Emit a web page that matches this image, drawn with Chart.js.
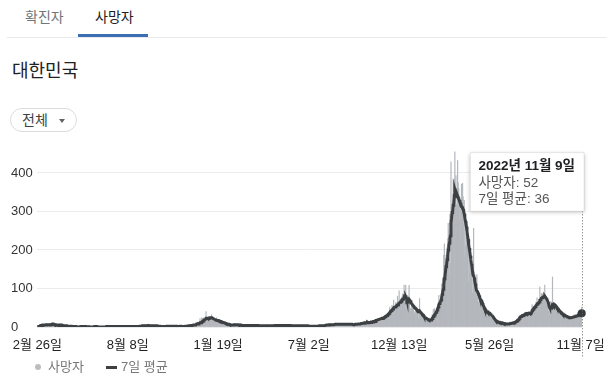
<!DOCTYPE html>
<html lang="ko">
<head>
<meta charset="utf-8">
<script src="https://cdn.jsdelivr.net/npm/chart.js@4.4.1/dist/chart.umd.min.js"></script>
<style>
  html, body { margin: 0; padding: 0; background: #fff; }
  body { width: 609px; height: 387px; position: relative; overflow: hidden;
         font-family: "Liberation Sans", "Noto Sans CJK KR", sans-serif; }
  .abs { position: absolute; white-space: nowrap; }
  .tab { top: 9px; font-size: 14px; line-height: 16px; }
  #tab1 { left: 25px; color: #70757a; }
  #tab2 { left: 95px; color: #202124; }
  #tabline { left: 78px; top: 34px; width: 70px; height: 3px; background: #3c6eb4; }
  #sep { left: 7px; top: 37px; width: 600px; height: 1px; background: #e8eaed; }
  #title { left: 12px; top: 60px; font-size: 18px; line-height: 22px; color: #202124; }
  #btn { left: 10px; top: 108px; width: 65px; height: 22px; border: 1px solid #dadce0; border-radius: 12px; }
  #btn span { position: absolute; left: 11px; top: 3px; font-size: 14px; line-height: 16px; color: #3c4043; }
  #btn i { position: absolute; left: 48px; top: 10px; width: 0; height: 0;
           border-left: 3px solid transparent; border-right: 3px solid transparent; border-top: 4px solid #5f6368; }
  #wrap { left: 0; top: 140px; width: 609px; height: 230px; }
  .leg { top: 359px; font-size: 13px; line-height: 16px; color: #777; }
  #dot { left: 35px; top: 364px; width: 6px; height: 6px; border-radius: 3px; background: #bdbdbd; }
  #dash { left: 106px; top: 366px; width: 11px; height: 3px; background: #3c4043; }
</style>
</head>
<body>
<div class="abs tab" id="tab1">확진자</div>
<div class="abs tab" id="tab2">사망자</div>
<div class="abs" id="sep"></div>
<div class="abs" id="tabline"></div>
<div class="abs" id="title">대한민국</div>
<div class="abs" id="btn"><span>전체</span><i></i></div>
<div class="abs" id="wrap"><canvas id="chart" width="609" height="230"></canvas></div>
<div class="abs" id="dot"></div>
<div class="abs leg" style="left:48px">사망자</div>
<div class="abs" id="dash"></div>
<div class="abs leg" style="left:121px">7일 평균</div>

<script>
// 첫 날짜 (2020년 2월 26일)
const startDate = [2020, 1, 26];

// x축 눈금 (첫 날짜로부터의 일수) 과 라벨
const tickDays = [0, 164, 328, 492, 656, 820, 985];
const tickLabels = ["2월 26일", "8월 8일", "1월 19일", "7월 2일", "12월 13일", "5월 26일", "11월 7일"];

// y축 눈금
const yTicks = [0, 100, 200, 300, 400];

// 일일 사망자
const deaths = [
  1,1,0,1, // 2020-02
  1,5,6,4,3,7,6,6,3,3, 6,6,6,8,3,6,3,7,3,8, 8,8,9,9,6,5,5,5,6,6,6,
  3,4,5,5,3,3,6,8,4,4, 4,3,3,3,3,3,3,3,2,2, 1,2,2,2,2,2,1,2,2,2,
  0,2,0,2,0,1,1,0,0,0, 0,0,1,1,1,0,1,1,1,1, 0,2,0,0,0,1,0,1,1,0,0,
  0,1,0,1,0,0,0,1,1,1, 0,1,1,0,0,0,1,0,0,0, 1,0,0,1,0,0,0,1,0,0,
  1,0,1,1,0,1,0,1,1,0, 1,0,1,0,1,0,0,1,1,0, 1,0,0,1,1,0,0,1,1,0,1,
  0,1,0,1,0,1,1,0,1,0, 0,1,0,1,1,0,0,1,0,1, 2,2,0,1,2,1,2,2,1,2,1,
  3,2,4,5,3,2,2,6,2,5, 2,3,3,5,5,2,2,2,3,5, 4,1,3,2,5,3,2,1,3,3,
  1,1,1,2,2,1,2,1,1,1, 1,1,2,1,2,1,3,1,3,3, 2,2,3,1,1,2,1,1,2,2,2,
  2,2,1,1,2,2,1,1,1,2, 2,2,1,1,2,1,1,2,2,3, 2,3,3,2,2,3,4,2,5,1,
  3,5,6,3,7,6,4,7,7,12, 7,13,3,9,13,12,22,11,12,24, 15,17,17,24,17,20,24,40,20,19,17,
  20,25,19,25,26,20,32,21,18,15, 15,15,14,19,10,24,10,16,19,10, 14,14,9,12,10,5,12,11,12,5,8, // 2021-01
  8,6,6,7,10,5,4,6,5,8, 6,5,2,3,4,6,9,6,5,5, 7,7,5,3,8,2,1,8,
  5,4,3,4,5,3,2,2,5,6, 3,4,4,4,3,2,4,6,5,3, 3,3,2,4,3,7,2,3,5,6,4,
  3,3,4,2,4,2,3,3,2,3, 4,2,3,4,4,3,2,6,3,2, 4,3,4,2,2,5,3,3,3,5,
  3,5,2,3,4,3,4,5,3,5, 5,3,4,2,3,5,4,3,2,5, 4,3,4,4,3,6,3,4,5,4,3,
  3,3,2,4,2,3,2,3,4,2, 3,2,3,2,3,2,4,3,2,3, 2,3,3,4,2,3,2,3,2,3,
  2,2,3,1,2,2,3,1,2,2, 3,1,2,3,2,2,3,2,3,2, 4,2,3,3,2,3,4,3,3,4,3,
  4,5,6,7,4,5,6,7,5,8, 6,6,5,8,7,6,5,8,7,10, 6,7,5,8,6,7,7,9,6,5,7,
  7,8,6,7,5,6,9,7,8,6, 7,6,5,7,8,9,6,5,7,6, 4,8,7,8,9,6,5,7,8,9,
  8,9,7,10,11,9,12,10,13,9, 12,11,14,10,12,13,11,9,14,12, 13,15,11,14,12,16,13,15,12,14,18,
  15,14,18,20,22,19,21,20,18,22, 25,24,21,23,22,21,29,30,28,32, 28,30,34,35,39,52,39,33,44,56,
  34,47,70,43,43,39,64,57,53,80, 40,52,94,60,73,70,69,78,86,58, 78,109,79,46,108,55,45,82,66,56,108,
  66,48,41,49,70,57,45,54,39,33, 41,37,46,38,36,33,22,38,74,31, 28,29,25,35,22,34,22,20,23,15,19, // 2022-01
  19,20,14,18,13,21,23,17,21,26, 33,28,45,18,48,27,30,40,36,51, 60,54,82,61,48,55,70,112,
  96,128,112,186,216,112,161,186,158,206, 229,269,251,136,293,164,429,301,319,327, 384,291,384,455,339,393,318,287,432,375,360,
  340,280,306,218,371,348,373,338,264,329, 184,211,244,264,273,213,205,118,218,174, 174,159,164,123,88,125,256,144,136,127,
  100,82,136,76,60,65,90,58,54,66, 72,50,49,47,39,38,35,52,40,49, 38,28,35,43,37,37,29,32,23,21,28,
  20,22,17,12,14,11,19,15,13,9, 11,10,8,16,12,8,11,10,7,9, 11,8,9,7,8,5,6,11,8,10,
  7,10,13,9,8,11,11,12,14,8, 14,12,15,20,18,17,21,26,25,31, 28,27,31,22,26,35,32,33,38,34,32,
  26,31,37,40,31,37,37,29,39,40, 58,48,53,38,40,44,59,64,50,76, 58,57,62,63,104,69,70,87,72,86,80,
  81,76,109,73,70,62,56,60,49,41, 30,38,55,66,58,56,130,45,47,50, 59,58,52,47,39,44,46,42,41,38,
  40,33,34,30,28,26,33,37,29,31, 24,23,30,25,21,20,28,27,22,24, 24,28,27,20,31,29,24,33,28,31,26,
  34,38,36,30,38,27,31,39,52 // 2022-11
];

// 7일 평균
const avg7 = [
  1,1,1,1,
  1,2,3,3,4,4,5,5,5,5, 5,5,5,6,6,6,6,6,5,6, 6,6,7,8,8,8,7,7,6,6,6,
  6,5,5,5,4,4,5,5,5,5, 5,4,4,4,3,3,3,3,3,3, 2,2,2,2,2,2,2,2,2,2,
  1,1,1,1,1,1,1,1,0,0, 0,0,0,0,1,1,1,1,1,1, 1,1,1,1,1,1,0,0,0,1,0,
  0,0,0,0,0,0,0,1,1,1, 1,1,1,1,0,0,0,0,0,0, 0,0,0,0,0,0,0,0,0,0,
  1,1,1,1,1,1,1,1,1,1, 1,1,1,1,1,0,0,0,1,1, 1,1,1,1,1,1,1,1,1,1,1,
  1,1,1,1,1,1,1,1,1,1, 1,1,1,1,1,1,1,1,1,1, 1,1,1,1,1,1,1,1,2,2,2,
  2,2,2,3,3,3,3,3,3,3, 3,3,3,4,4,3,3,3,3,3, 3,3,3,3,3,3,3,3,3,3,
  3,2,2,2,2,2,1,1,1,1, 1,1,1,1,1,1,2,2,2,2, 2,2,2,2,2,2,2,2,2,2,2,
  2,2,2,2,2,2,1,1,1,1, 1,2,2,1,1,1,1,1,1,2, 2,2,2,2,2,2,3,3,3,3,
  3,4,4,4,5,5,5,5,6,7, 7,8,8,8,9,9,11,11,11,13, 14,15,16,18,18,18,20,23,23,23,22,
  22,23,23,24,24,24,24,24,23,22, 21,20,20,19,18,18,17,17,17,16, 16,15,15,14,14,13,13,12,12,11,11,
  10,9,9,8,8,7,7,7,6,6, 6,5,5,5,5,5,5,6,6,6, 6,6,6,6,5,5,5,5,
  5,5,4,4,4,4,4,4,4,4, 4,4,4,4,4,4,4,4,4,4, 4,4,4,4,4,4,4,4,4,4,4,
  4,4,3,3,3,3,3,3,3,3, 3,3,3,3,3,3,3,3,3,3, 3,3,3,3,3,3,3,3,3,3,
  4,4,4,4,4,4,4,4,4,4, 4,4,4,4,4,4,4,4,4,4, 4,4,4,4,4,4,4,4,4,4,4,
  4,3,3,3,3,3,3,3,3,3, 3,3,3,3,3,3,3,3,3,3, 3,3,3,3,3,3,3,3,3,3,
  3,3,2,2,2,2,2,2,2,2, 2,2,2,2,2,2,2,2,2,2, 3,3,3,3,3,3,3,3,3,3,3,
  4,4,5,5,5,5,5,5,6,6, 6,6,6,6,6,6,6,6,7,7, 7,7,7,7,7,7,7,7,7,7,7,
  7,7,7,7,7,7,7,7,7,7, 7,7,7,7,7,7,7,7,7,7, 6,6,6,7,7,7,7,7,7,8,
  8,8,8,8,9,9,9,9,10,10, 10,11,11,11,11,11,12,11,12,12, 12,12,12,13,13,13,13,14,14,14,14,
  17,17,18,18,19,19,20,20,21,21, 22,22,23,23,24,25,26,27,28,29, 30,31,33,34,36,38,40,41,43,44,
  46,47,50,51,51,52,53,55,56,58, 58,59,62,62,64,66,67,70,72,72, 72,77,78,77,79,76,70,72,70,69,72,
  70,68,66,62,60,58,56,55,53,52, 50,48,47,45,44,43,40,40,42,40, 38,37,35,33,32,31,28,26,25,24,23,
  22,21,20,19,18,18,18,18,18,19, 22,24,27,28,31,33,35,38,40,44, 48,52,57,61,63,66,70,77,
  85,92,98,110,125,130,144,157,162,175, 185,200,210,218,230,237,270,282,297,300, 316,318,342,357,352,350,344,338,340,336,332,
  330,326,322,314,312,312,310,306,300,294, 285,275,268,260,248,238,228,214,205,196, 185,175,165,158,144,135,132,128,120,112,
  104,96,96,92,88,84,82,77,73,70, 69,67,62,58,55,51,47,46,44,43, 42,40,38,37,37,37,35,34,32,31,29,
  27,25,23,21,19,17,16,15,15,14, 13,12,12,12,11,11,11,11,10,10, 9,9,9,9,8,8,8,8,8,8,
  8,9,9,9,9,10,10,10,11,11, 12,13,14,15,16,18,19,21,23,25, 26,27,28,29,30,30,31,32,33,34,35,
  34,34,35,35,35,36,35,35,36,37, 42,44,46,48,50,52,53,55,57,59, 61,62,63,65,70,71,72,75,76,77,78,
  78,77,80,78,76,74,72,68,64,60, 53,50,49,50,51,52,58,57,55,57, 58,57,55,53,50,49,48,46,44,42,
  40,39,38,36,35,33,32,32,31,30, 29,28,28,27,26,25,25,25,24,24, 24,24,25,25,26,26,26,27,27,28,28,
  29,30,31,32,33,33,33,34,36
];

// 날짜 라벨
const dates = [];
for (let i = 0; i < deaths.length; i++) {
   const d = new Date(startDate[0], startDate[1], startDate[2] + i);
   dates.push(d.getFullYear() + "년 " + (d.getMonth() + 1) + "월 " + d.getDate() + "일");
}

const fontFamily = '"Liberation Sans", "Noto Sans CJK KR", sans-serif';
Chart.defaults.font.family = fontFamily;
Chart.defaults.font.size = 13;

const lastIdx = deaths.length - 1;

Chart.Tooltip.positioners.topRight = function () {
   const area = this.chart.chartArea;
   return { x: area.right + 2, y: 12.7, xAlign: "right", yAlign: "top" };
};

// 툴팁 그림자 + 점선
const extras = {
   id: "extras",
   afterDatasetsDraw(chart) {
      const tip = chart.tooltip;
      const meta = chart.getDatasetMeta(0);
      const bar = meta.data[lastIdx];
      if (!bar) return;
      const ctx = chart.ctx;
      ctx.save();
      ctx.strokeStyle = "#666";
      ctx.lineWidth = 1;
      ctx.setLineDash([1, 2]);
      const x = Math.round(bar.x) + 0.5;
      ctx.beginPath();
      ctx.moveTo(x, tip && tip.opacity ? tip.y + tip.height : chart.chartArea.top);
      ctx.lineTo(x, chart.chartArea.bottom + 31);
      ctx.stroke();
      ctx.restore();
   },
   beforeTooltipDraw(chart, args) {
      const tip = args.tooltip;
      if (!tip.opacity) return;
      const ctx = chart.ctx;
      ctx.save();
      ctx.shadowColor = "rgba(0,0,0,0.28)";
      ctx.shadowBlur = 4;
      ctx.shadowOffsetY = 1;
      ctx.fillStyle = "#fff";
      ctx.fillRect(tip.x, tip.y, tip.width, tip.height);
      ctx.restore();
   },
};

const chart = new Chart(document.getElementById("chart"), {
   type: "bar",
   data: {
      labels: dates,
      datasets: [
         {
            label: "사망자",
            data: deaths,
            backgroundColor: "#b4b8bd",
            hoverBackgroundColor: "#b4b8bd",
            borderWidth: 0,
            barPercentage: 1,
            categoryPercentage: 1,
            order: 1,
         },
         {
            type: "line",
            label: "7일 평균",
            data: avg7,
            borderColor: "#3c4043",
            backgroundColor: "#3c4043",
            borderWidth: 3,
            tension: 0,
            pointRadius: (c) => (c.dataIndex === lastIdx ? 4 : 0),
            pointHoverRadius: (c) => (c.dataIndex === lastIdx ? 4 : 0),
            pointBorderWidth: 0,
            pointHoverBorderWidth: 0,
            order: 0,
         },
      ],
   },
   options: {
      responsive: false,
      maintainAspectRatio: false,
      animation: false,
      events: [],
      layout: { padding: { left: 11, right: 27, top: 6, bottom: 0 } },
      scales: {
         x: {
            grid: { display: false },
            border: { display: false },
            ticks: {
               autoSkip: false,
               maxRotation: 0,
               minRotation: 0,
               padding: 3,
               color: "#222",
               font: { size: 13 },
               callback: (value) => tickLabels[tickDays.indexOf(value)],
            },
            afterBuildTicks: (axis) => {
               axis.ticks = tickDays.map((v) => ({ value: v }));
            },
            afterFit: (axis) => {
               axis.height = 43;
               axis.paddingLeft = 0;
               axis.paddingRight = 0;
            },
         },
         y: {
            min: 0,
            max: 470,
            grid: { color: "#ebebeb", drawTicks: false },
            border: { display: false },
            ticks: {
               stepSize: 100,
               includeBounds: false,
               crossAlign: "far",
               padding: 0,
               color: "#333",
               font: { size: 13 },
            },
            afterBuildTicks: (axis) => {
               axis.ticks = yTicks.map((v) => ({ value: v }));
            },
            afterFit: (axis) => {
               axis.width = 26;
               axis.paddingTop = 0;
               axis.paddingBottom = 0;
            },
         },
      },
      plugins: {
         legend: { display: false },
         tooltip: {
            position: "topRight",
            xAlign: "right",
            yAlign: "top",
            caretSize: 0,
            caretPadding: 0,
            cornerRadius: 0,
            displayColors: false,
            backgroundColor: "#fff",
            borderColor: "rgba(0,0,0,0.08)",
            borderWidth: 1,
            padding: { left: 8, right: 9, top: 5, bottom: 4 },
            titleColor: "#202124",
            titleFont: { size: 13.5, weight: "bold" },
            titleMarginBottom: 1,
            bodyColor: "#555",
            bodyFont: { size: 13.5 },
            bodySpacing: 0,
            callbacks: {
               title: (items) => dates[items[0].dataIndex],
               label: (c) => c.dataset.label + ": " + c.raw,
            },
         },
      },
   },
   plugins: [extras],
});

const active = [
   { datasetIndex: 0, index: lastIdx },
   { datasetIndex: 1, index: lastIdx },
];
chart.setActiveElements(active);
chart.tooltip.setActiveElements(active, { x: 0, y: 0 });
chart.update();
</script>
</body>
</html>
